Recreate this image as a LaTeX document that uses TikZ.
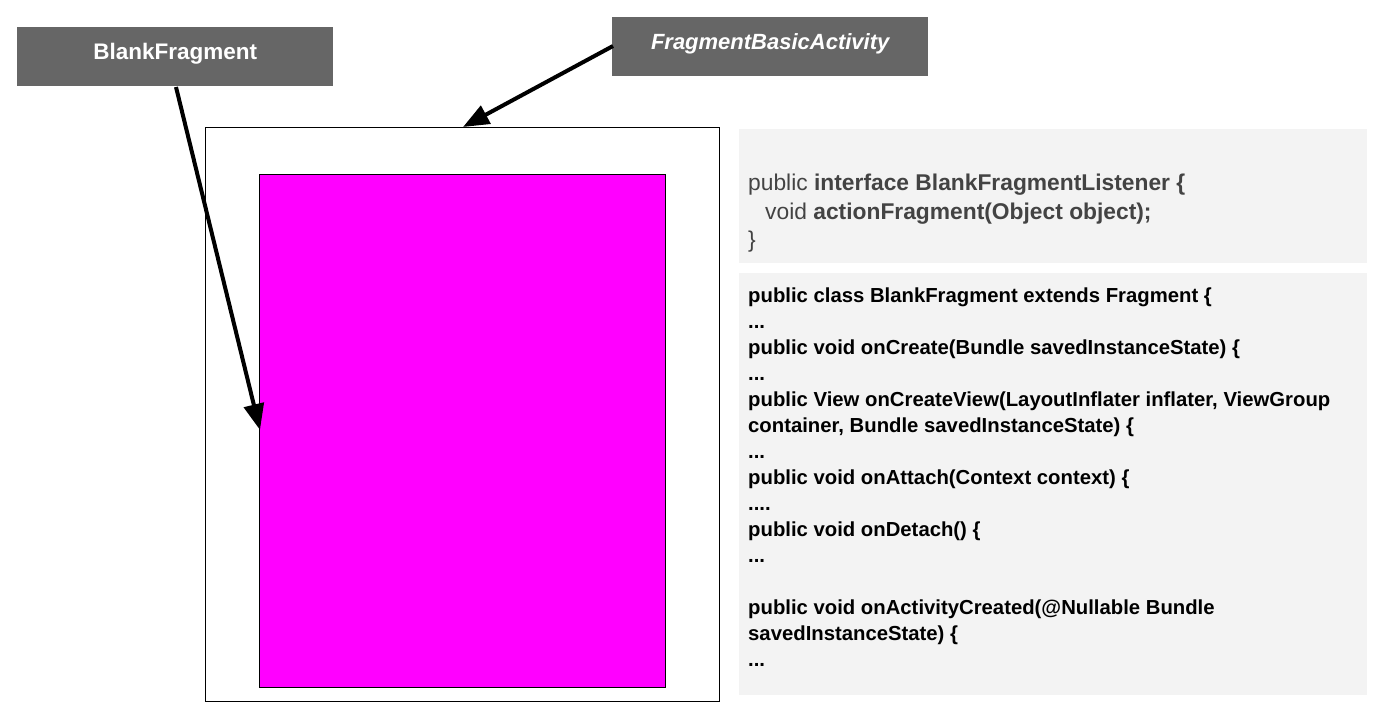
\documentclass[tikz,border=0pt]{standalone}
\usepackage{fontspec}
\setmainfont{Liberation Sans}
\usetikzlibrary{arrows.meta}
\definecolor{labelgray}{HTML}{666666}
\definecolor{panelgray}{HTML}{F3F3F3}
\definecolor{codegray}{HTML}{434343}
\definecolor{magentafill}{HTML}{FF00FF}
\tikzset{
  labelbox/.style={fill=labelgray, text=white, font=\fontsize{22.5}{26}\selectfont\bfseries, minimum width=316pt, minimum height=59pt, inner sep=0pt},
  panel/.style={fill=panelgray, draw=none},
  bigarrow/.style={line width=4pt, -{Triangle[length=26pt,width=20pt]}},
  codetext/.style={anchor=north west, inner sep=0pt, align=left},
}
\newcommand{\labeltext}[1]{\raisebox{-2.5pt}[0pt][0pt]{#1}}
\begin{document}
\begin{tikzpicture}[x=1pt,y=-1pt]
\useasboundingbox[fill=white] (0,0) rectangle (1382,704);
% outer activity frame
\node[draw=black, line width=0.8pt, minimum width=514pt, minimum height=574pt, inner sep=0pt, anchor=north west] (activity) at (205,127) {};
% fragment
\node[draw=black, fill=magentafill, line width=0.8pt, minimum width=406pt, minimum height=513pt, inner sep=0pt, anchor=north west] (fragment) at (259,174) {};
% labels
\node[labelbox, anchor=north west] (blank) at (17,27) {\labeltext{BlankFragment}};
\node[labelbox, anchor=north west, font=\fontsize{22}{26}\selectfont\bfseries\itshape] (activitylabel) at (612,17) {\labeltext{FragmentBasicActivity}};
% arrows
\coordinate (blankstart) at (176,87);
\coordinate (blanktip) at (260,430);
\coordinate (actstart) at (613,46);
\coordinate (acttip) at (463,127);
\draw[bigarrow] (blankstart) -- (blanktip);
\draw[bigarrow] (actstart) -- (acttip);
% panels
\node[panel, minimum width=628pt, minimum height=134pt, inner sep=0pt, anchor=north west] (panelone) at (739,129) {};
\node[panel, minimum width=628pt, minimum height=422pt, inner sep=0pt, anchor=north west] (paneltwo) at (739,273) {};
% interface code
\node[codetext, text=codegray, font=\fontsize{22.8}{28.5}\selectfont] (ifacecode) at (748,174) {%
public \textbf{interface BlankFragmentListener \{}\\
\hspace*{17pt}void \textbf{actionFragment(Object object);}\\
\}};
% class code
\node[codetext, text=black, font=\fontsize{20.3}{26}\selectfont\bfseries] (classcode) at (748,288) {%
public class BlankFragment extends Fragment \{\\
...\\
public void onCreate(Bundle savedInstanceState) \{\\
...\\
public View onCreateView(LayoutInflater inflater, ViewGroup\\
container, Bundle savedInstanceState) \{\\
...\\
public void onAttach(Context context) \{\\
....\\
public void onDetach() \{\\
...\\
\strut\\
public void onActivityCreated(@Nullable Bundle\\
savedInstanceState) \{\\
...};
\end{tikzpicture}
\end{document}
